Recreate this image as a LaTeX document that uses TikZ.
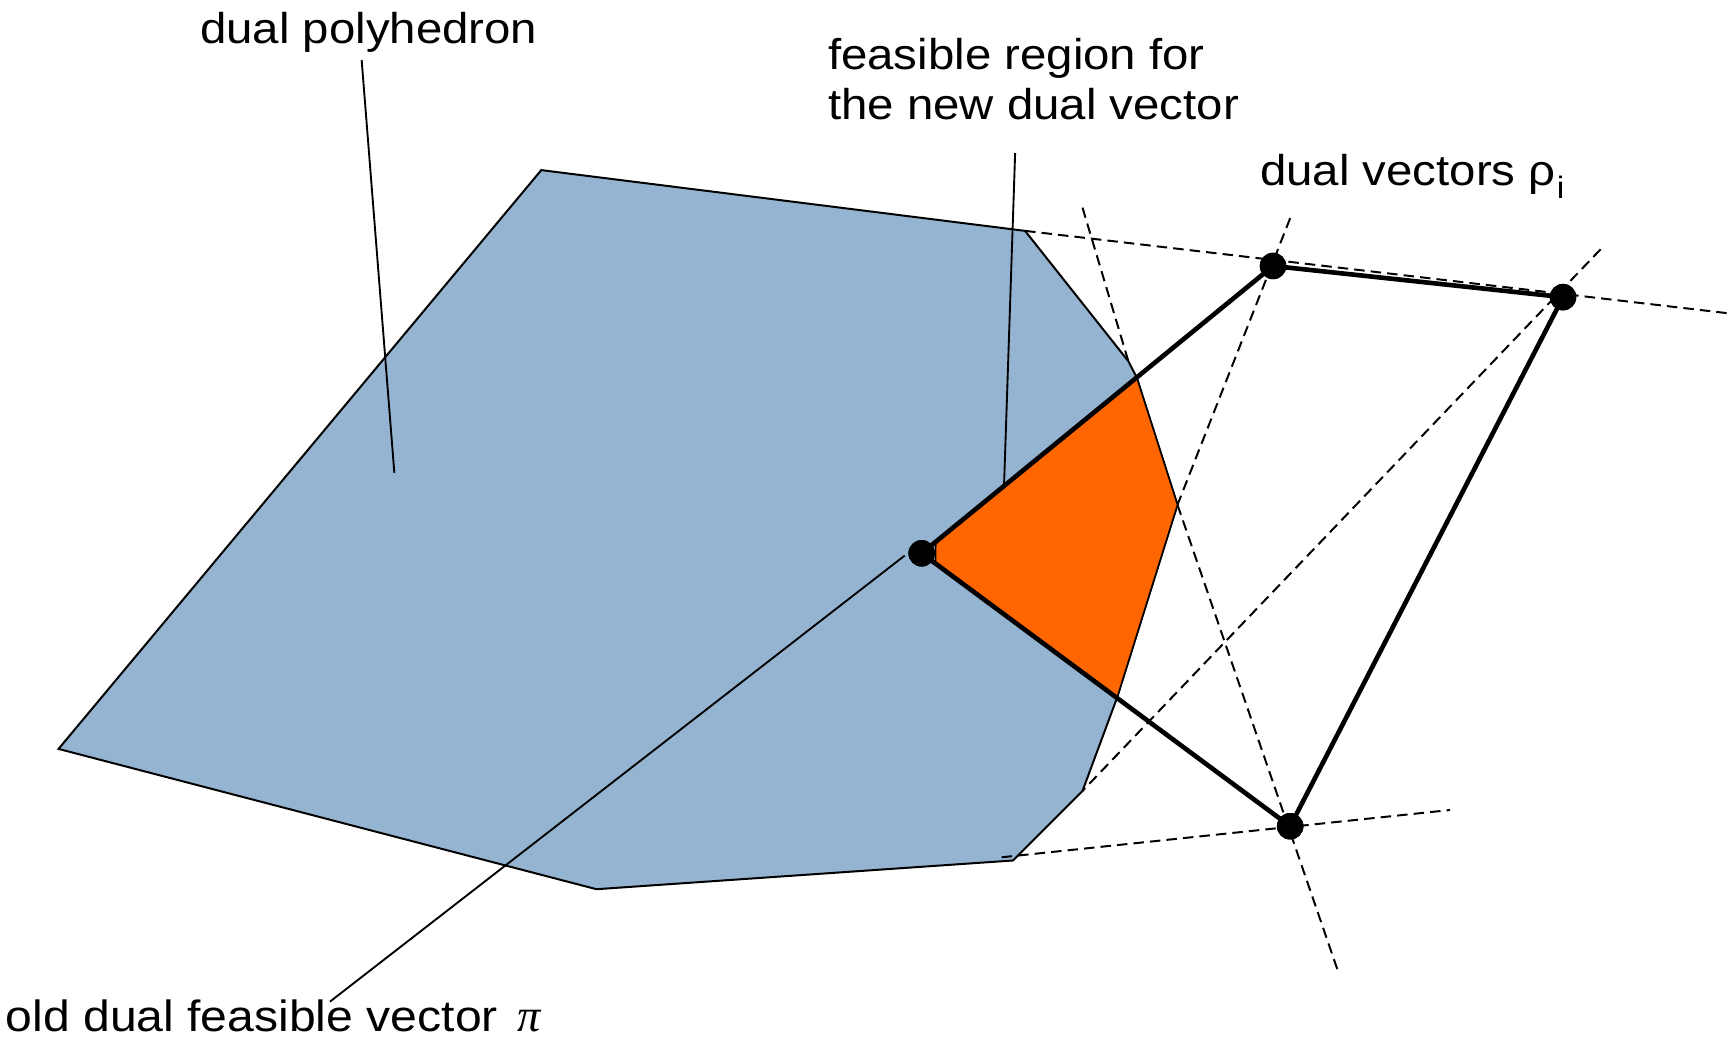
\documentclass[tikz,border=0pt]{standalone}
\usepackage{fontspec}
\setmainfont{Liberation Sans}[FakeStretch=1.1]
\newfontfamily\pifont{Liberation Serif}
\usetikzlibrary{calc}
\definecolor{polyblue}{RGB}{149,180,209}
\definecolor{feasorange}{RGB}{255,102,0}
\begin{document}
\begin{tikzpicture}[x=1pt,y=-1pt,
  poly/.style={fill=polyblue, draw=black, line width=1.8pt, line join=miter},
  feas/.style={fill=feasorange, draw=black, line width=1.4pt, line join=miter},
  dsh/.style={line width=1.8pt, dash pattern=on 9.5pt off 5.5pt},
  bold/.style={line width=4.2pt},
  lead/.style={line width=1.7pt},
  dot/.style={circle, fill=black, minimum size=24pt, inner sep=0pt},
  lbl/.style={inner sep=0pt, anchor=base west, font=\fontsize{39}{45}\selectfont}]

\useasboundingbox (0,0) rectangle (1568,943);

% dual vectors
\coordinate (pi) at (834.4,500.9);
\coordinate (r1) at (1152.5,240.8);
\coordinate (r2) at (1415,269);
\coordinate (r3) at (1168,748);

% polyhedron
\coordinate (P1) at (490,154);
\coordinate (P2) at (928,209);
\coordinate (P3) at (1021.5,327);
\coordinate (P4) at ($(pi)!0.612!(r1)$);
\coordinate (P5) at (1066,457);
\coordinate (P6) at ($(pi)!0.53!(r3)$);
\coordinate (P7) at (980,716);
\coordinate (P8) at (917,779);
\coordinate (P9) at (540,805);
\coordinate (P10) at (53,678);
\coordinate (F0a) at ($(pi)!0.04!(r1)$);
\coordinate (F0b) at ($(pi)!0.038!(r3)$);

\path[poly] (P1) -- (P2) -- (P3) -- (P4) -- (P5) -- (P6) -- (P7) -- (P8) -- (P9) -- (P10) -- cycle;

% dashed constraint lines
\coordinate (D1e) at (1568,284);
\coordinate (D2s) at (980,188);
\coordinate (D2e) at (1210.7,877.5);
\coordinate (D3s) at (1168,197.5);
\coordinate (D4s) at (1449,225.7);
\coordinate (D5s) at (906.8,776.1);
\coordinate (D5e) at (1312.7,733.3);
\draw[dsh] (P2) -- (D1e);
\draw[dsh] (D2s) -- (P3);
\draw[dsh] (P5) -- (D2e);
\draw[dsh] (D3s) -- (P5);
\draw[dsh] (D4s) -- (P7);
\draw[dsh] (D5s) -- (D5e);

% feasible region
\path[feas] (F0a) -- (P4) -- (P5) -- (P6) -- (F0b) -- cycle;

% dots
\node[dot] (piD) at (pi) {};
\node[dot] (r1D) at (r1) {};
\node[dot] (r2D) at (r2) {};
\node[dot] (r3D) at (r3) {};

% thick connectors
\draw[bold] (piD.center) -- (r1D.center);
\draw[bold] (piD.center) -- (r3D.center);
\draw[bold] (r1D.center) -- (r2D.center);
\draw[bold] (r2D.center) -- (r3D.center);

% labels
\node[lbl] (dp) at (181,39.8) {dual polyhedron};
\node[lbl] (fr1) at (749.5,63) {feasible region for};
\node[lbl] (fr2) at (749.5,108.4) {the new dual vector};
\node[lbl] (dv) at (1140.7,167.5) {dual vectors ρ\kern1pt\raisebox{-12pt}{\fontsize{28}{28}\selectfont i}};
\node[lbl, font=\fontsize{39.6}{45}\selectfont] (od) at (5,934) {old dual feasible vector\kern18pt{\pifont\itshape\fontsize{42}{45}\selectfont π}};

% leader lines
\coordinate (L1a) at (327.4,54.3);
\coordinate (L1b) at (357,428);
\coordinate (L2a) at (919,138.7);
\coordinate (L2b) at (909,438);
\coordinate (L3a) at (298.7,906.8);
\coordinate (L3b) at (819,503);
\draw[lead] (L1a) -- (L1b);
\draw[lead] (L2a) -- (L2b);
\draw[lead] (L3a) -- (L3b);

% dots on top
\fill (pi) circle (12);
\fill (r1) circle (12);
\fill (r2) circle (12);
\fill (r3) circle (12);
\end{tikzpicture}
\end{document}
